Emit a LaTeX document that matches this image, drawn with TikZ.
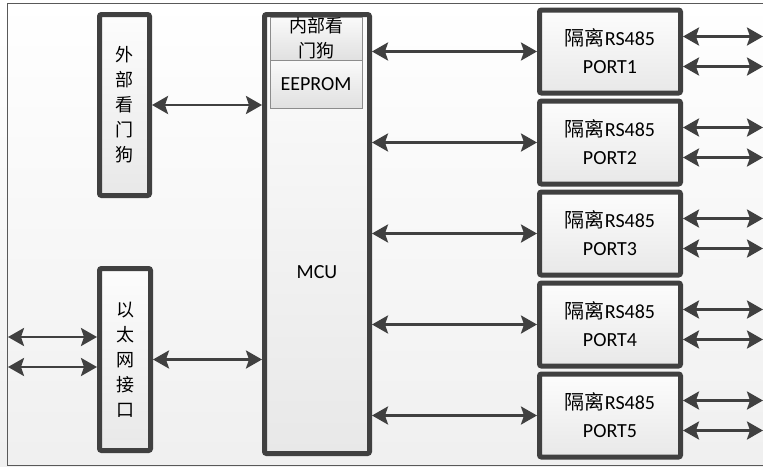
\documentclass[tikz,border=0pt]{standalone}
\usepackage{fontspec}
\setmainfont{Carlito}
\newfontfamily\cjk{Noto Sans CJK SC}
\usetikzlibrary{positioning,calc,arrows.meta,shadows}

\begin{document}
\begin{tikzpicture}[
  x = 1pt, y = -1pt,
  node distance = 3pt,
  block/.style  = {rectangle, rounded corners=2pt, draw=black!75, line width=5pt,
                   top color=black!1, bottom color=black!9,
                   drop shadow={shadow xshift=1.5pt, shadow yshift=-1.5pt, opacity=0.18},
                   inner sep=0pt, align=center},
  vblock/.style = {block, minimum width=50pt, minimum height=181pt,
                   font=\cjk\fontsize{18}{25}\selectfont},
  port/.style   = {block, minimum width=141pt, minimum height=83pt,
                   font=\fontsize{20}{28}\selectfont},
  sub/.style    = {rectangle, draw=black!45, line width=0.8pt, outer sep=0pt,
                   top color=black!2, bottom color=black!12,
                   minimum width=92pt, inner sep=0pt, align=center},
  arrow/.style  = {<->, >={Stealth[length=16pt, width=18pt, inset=3pt]},
                   line width=2.8pt, draw=black!75}
]
\useasboundingbox (0,0) rectangle (763,466);
\fill[top color=white, bottom color=black!6] (0,0) rectangle (763,466);
\draw[black!65, line width=1pt] (763,3.5) -- (7.5,3.5) -- (7.5,465) -- (763,465);

% left side
\node[vblock] (wdg) at (124.5,105) {外\\部\\看\\门\\狗};
\node[vblock, minimum width=51pt, minimum height=182pt] (eth) at (125,359.5) {以\\太\\网\\接\\口};

% controller
\node[block, minimum width=105pt, minimum height=439pt] (mcu) at (317,234) {};
\node[font=\fontsize{20}{24}\selectfont] (mcuname) at (317,272) {MCU};
\node[sub, minimum height=43pt,
      label={[font=\cjk\fontsize{18}{25}\selectfont, align=center]center:内部看\\门狗}]
      (iwdg) at (316,38.5) {};
\node[sub, minimum height=48pt, below=0pt of iwdg,
      font=\fontsize{20}{24}\selectfont] (eeprom) {EEPROM};

% isolated ports
\node[port] (port1) at (610,51.5) {{\cjk 隔离}RS485\\PORT1};
\node[port, below=of port1] (port2) {{\cjk 隔离}RS485\\PORT2};
\node[port, below=of port2] (port3) {{\cjk 隔离}RS485\\PORT3};
\node[port, below=of port3] (port4) {{\cjk 隔离}RS485\\PORT4};
\node[port, below=of port4] (port5) {{\cjk 隔离}RS485\\PORT5};

\draw[arrow] (wdg.east) -- (wdg.east -| mcu.west);
\draw[arrow] (eth.east) -- (eth.east -| mcu.west);

\coordinate (lan1) at (8,337);
\coordinate (lan2) at (8,367);
\draw[arrow] (lan1) -- (lan1 -| eth.west);
\draw[arrow] (lan2) -- (lan2 -| eth.west);

\foreach \i in {1,...,5} {
  \coordinate (busA\i) at ($(port\i.east)+(80,-15)$);
  \coordinate (busB\i) at ($(port\i.east)+(80,15)$);
  \draw[arrow] (port\i.west -| mcu.east) -- (port\i.west);
  \draw[arrow] (port\i.east |- busA\i) -- (busA\i);
  \draw[arrow] (port\i.east |- busB\i) -- (busB\i);
}

\end{tikzpicture}
\end{document}
